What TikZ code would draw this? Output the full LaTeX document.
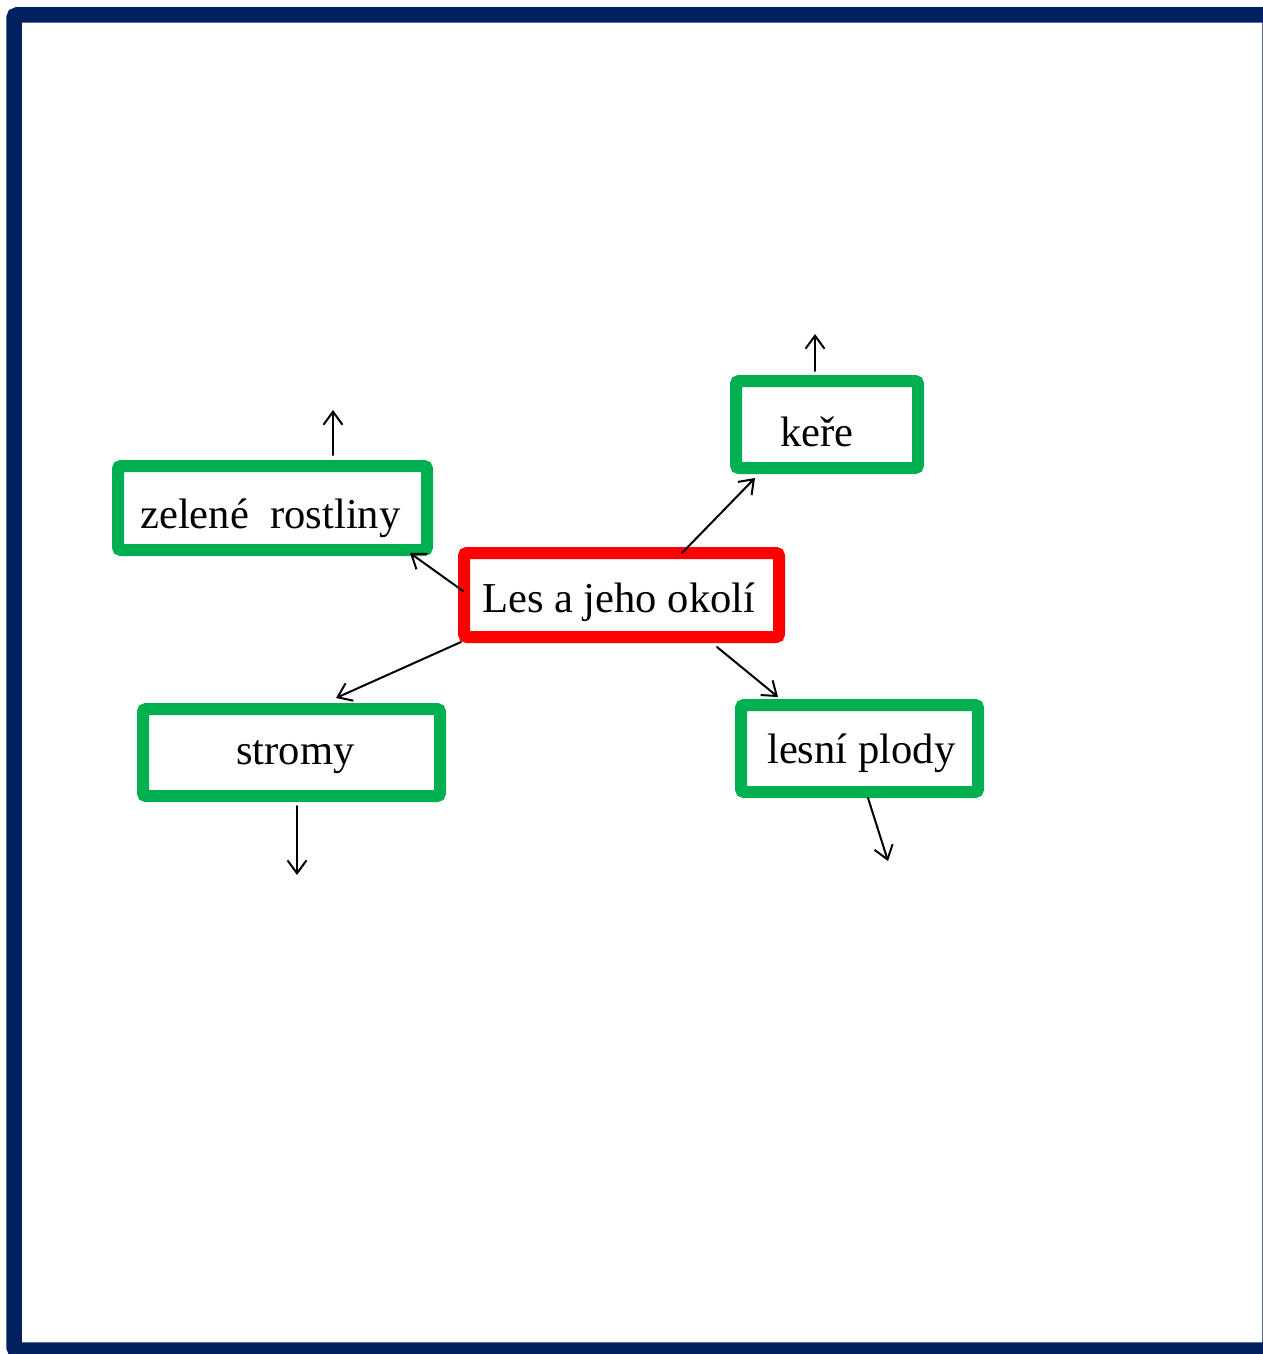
\documentclass[tikz,border=0pt]{standalone}
\usepackage{fontspec}
\setmainfont{Liberation Serif}
\usetikzlibrary{arrows.meta}
\definecolor{navy}{HTML}{002060}
\definecolor{grn}{HTML}{00B050}
\definecolor{rd}{HTML}{FF0000}
\begin{document}
\begin{tikzpicture}[x=1pt,y=-1pt,
  box/.style={draw=grn,line width=12pt,rounded corners=3pt,inner sep=0pt,shape=rectangle},
  redbox/.style={box,draw=rd},
  lbl/.style={anchor=base west,inner sep=0pt,font=\fontsize{42.6}{50}\selectfont},
  arr/.style={draw=black,line width=2pt,line cap=round,-{Straight Barb[length=13pt,width=19pt,line width=2pt]}}]
\useasboundingbox (0,0) rectangle (1263,1354);
\fill[white] (0,0) rectangle (1263,1354);
\draw[navy,line width=15.5pt,rounded corners=3pt] (14,15) rectangle (1270,1350);
% boxes
\node[box,minimum width=309pt,minimum height=84pt] (zel) at (272.5,508) {};
\node[box,minimum width=182pt,minimum height=87pt] (ker) at (827,424.5) {};
\node[redbox,minimum width=315pt,minimum height=84pt] (les) at (621.5,595) {};
\node[box,minimum width=297pt,minimum height=87pt] (str) at (291.5,752.5) {};
\node[box,minimum width=237pt,minimum height=87pt] (plo) at (859.5,748.5) {};
% texts
\node[lbl] (tzel) at (140,528) {zelené\ \ rostliny};
\node[lbl] (tker) at (780,446) {keře};
\node[lbl] (tles) at (482,612) {Les a jeho okolí};
\node[lbl] (tstr) at (236,764) {stromy};
\node[lbl] (tplo) at (767,763) {lesní plody};
% connector end points
\coordinate (a1) at (463,591); \coordinate (b1) at (410,553);
\coordinate (a2) at (461,642); \coordinate (b2) at (336,698);
\coordinate (a3) at (682,553); \coordinate (b3) at (755,478);
\coordinate (a4) at (717,647); \coordinate (b4) at (778,697);
\coordinate (a5) at (333,455); \coordinate (b5) at (333,410);
\coordinate (a6) at (815,371); \coordinate (b6) at (815,334);
\coordinate (a7) at (297,806); \coordinate (b7) at (297,875);
\coordinate (a8) at (868,798); \coordinate (b8) at (888,861);
\draw[arr] (a1) -- (b1);
\draw[arr] (a2) -- (b2);
\draw[arr] (a3) -- (b3);
\draw[arr] (a4) -- (b4);
\draw[arr] (a5) -- (b5);
\draw[arr] (a6) -- (b6);
\draw[arr] (a7) -- (b7);
\draw[arr] (a8) -- (b8);
\end{tikzpicture}
\end{document}
